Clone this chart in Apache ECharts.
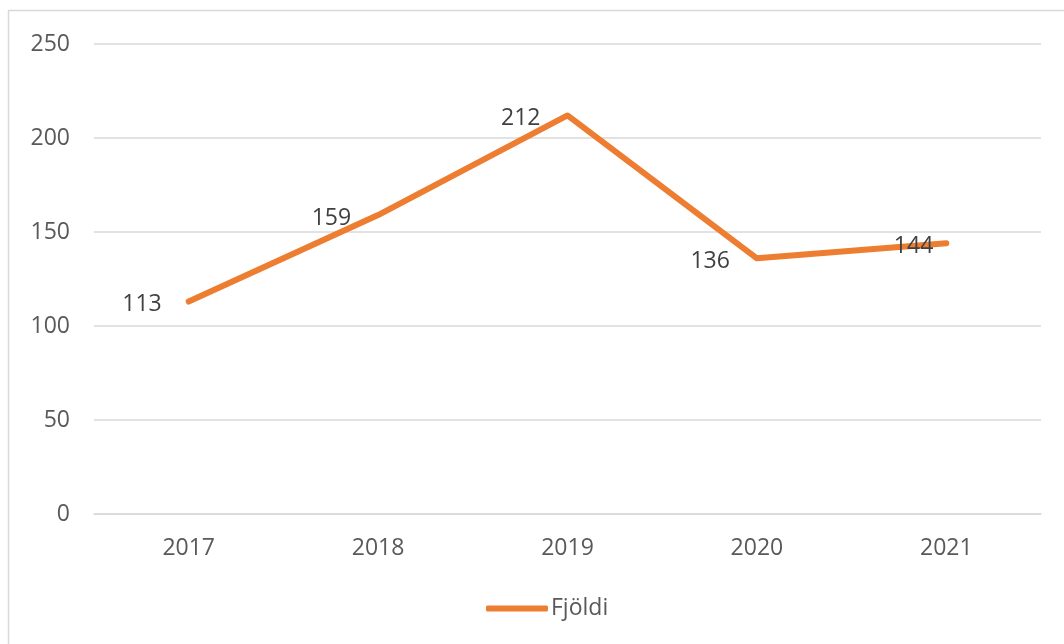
<!DOCTYPE html>
<html>
<head>
<meta charset="utf-8">
<script src="https://cdn.jsdelivr.net/npm/echarts@6/dist/echarts.min.js"></script>
<style>
  html, body { margin: 0; padding: 0; background: #fff; }
  #chart { width: 1064px; height: 644px; }
</style>
</head>
<body>
<div id="chart"></div>
<script>
// Fjöldi eftir árum
const years = ['2017', '2018', '2019', '2020', '2021'];
const counts = [113, 159, 212, 136, 144];
const labelGaps = [26, 26, 26, 26, 12];

const chart = echarts.init(document.getElementById('chart'));

const font = '"Open Sans", "Noto Sans", sans-serif';

const option = {
    animation: false,
    graphic: [
        {
            type: 'rect',
            shape: { x: 8.5, y: 10.5, width: 1100, height: 700 },
            style: { fill: 'none', stroke: '#d9d9d9', lineWidth: 1.5 },
            silent: true
        }
    ],
    grid: { left: 94, right: 23, top: 44, bottom: 130 },
    legend: {
        bottom: 19,
        left: 481,
        itemWidth: 62,
        itemHeight: 6,
        itemGap: 4,
        textStyle: { fontFamily: font, fontSize: 23, color: '#595959', padding: [0, 0, 0, -2] },
        data: [{ name: 'Fjöldi', icon: 'roundRect' }]
    },
    xAxis: {
        type: 'category',
        data: years,
        boundaryGap: true,
        axisLine: { lineStyle: { color: '#d9d9d9', width: 1.5 } },
        axisTick: { show: false },
        axisLabel: { fontFamily: font, fontSize: 23, color: '#595959', margin: 23 }
    },
    yAxis: {
        type: 'value',
        min: 0,
        max: 250,
        interval: 50,
        axisLine: { show: false },
        axisTick: { show: false },
        splitLine: { lineStyle: { color: '#d9d9d9', width: 1.5 } },
        axisLabel: { fontFamily: font, fontSize: 23, color: '#595959', margin: 24 }
    },
    series: [
        {
            name: 'Fjöldi',
            type: 'line',
            data: counts.map((v, i) => ({
                value: v,
                label: { distance: labelGaps[i] }
            })),
            showSymbol: true,
            symbol: 'circle',
            symbolSize: 2,
            itemStyle: { color: '#ED7D31' },
            lineStyle: { color: '#ED7D31', width: 6, cap: 'round', join: 'round' },
            label: {
                show: true,
                position: 'left',
                offset: [0, 3],
                fontFamily: font,
                fontSize: 23,
                color: '#404040'
            }
        }
    ]
};

chart.setOption(option);
</script>
</body>
</html>
